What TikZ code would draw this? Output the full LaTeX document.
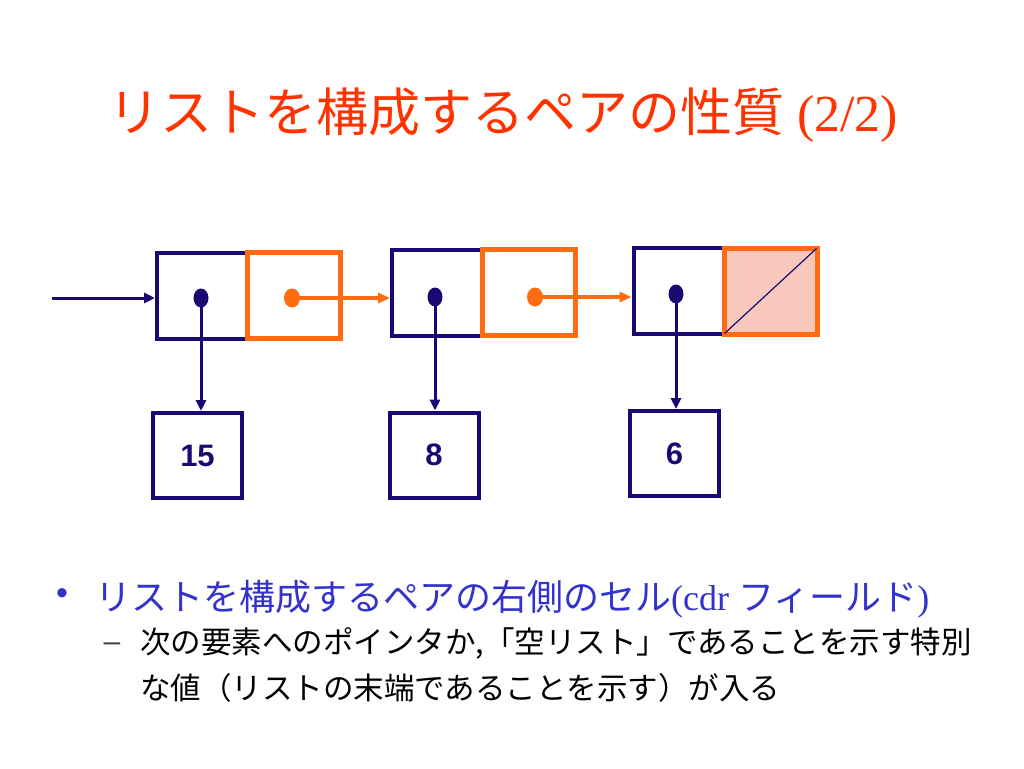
\documentclass[tikz,border=0pt]{standalone}
\usepackage{fontspec}
\setmainfont{Liberation Serif}
\newfontfamily\jp{Noto Sans CJK JP}
\newfontfamily\arialf{Liberation Sans}
\usetikzlibrary{arrows.meta,shapes.geometric}
\definecolor{cnavy}{RGB}{25,10,115}
\definecolor{corange}{RGB}{255,108,16}
\definecolor{ctitle}{RGB}{255,51,0}
\definecolor{cblue}{RGB}{51,51,204}
\definecolor{cpink}{RGB}{248,200,188}
\begin{document}
\begin{tikzpicture}[x=1pt,y=-1pt,
  navycell/.style={draw=cnavy,line width=4pt,rectangle,inner sep=0pt,minimum width=90pt,minimum height=86pt},
  orangecell/.style={draw=corange,line width=5pt,rectangle,inner sep=0pt,minimum width=93pt,minimum height=86pt},
  valbox/.style={draw=cnavy,line width=4pt,rectangle,inner sep=0pt,minimum width=89pt,minimum height=85pt,
    text=cnavy,font=\arialf\bfseries\fontsize{31}{36}\selectfont},
  dotn/.style={ellipse,fill=cnavy,inner sep=0pt,minimum width=15pt,minimum height=19pt},
  doto/.style={ellipse,fill=corange,inner sep=0pt,minimum width=16pt,minimum height=19pt},
  narr/.style={draw=cnavy,line width=3pt,-{Triangle[length=11pt,width=10pt]}},
  oarr/.style={draw=corange,line width=3.5pt,-{Triangle[length=12pt,width=10pt]}},
  titletext/.style={anchor=base west,inner sep=0pt,text=ctitle,font=\fontsize{52}{60}\selectfont},
  bullettext/.style={anchor=base west,inner sep=0pt,text=cblue,font=\fontsize{36}{42}\selectfont},
  subtext/.style={anchor=base west,inner sep=0pt,text=black,font=\fontsize{30.5}{36}\selectfont}
]
\useasboundingbox[fill=white] (0,0) rectangle (1024,768);

% title
\node[titletext] (title) at (108,131.8) {{\jp リストを構成するペアの性質} (2/2)};

% pair cells
\node[navycell] (c1a) at (202,295.5) {};
\node[navycell] (c2a) at (437,292.5) {};
\node[navycell] (c3a) at (678.5,291) {};
\node[orangecell] (c1b) at (293.5,295) {};
\node[orangecell] (c2b) at (529,292.5) {};
\node[orangecell,fill=cpink] (c3b) at (770.5,291) {};
\draw[cnavy,line width=1.2pt] ([shift={(3pt,3pt)}]c3b.south west) -- ([shift={(-3pt,-3pt)}]c3b.north east);

% value boxes
\node[valbox] (v1) at (197.5,455.5) {15};
\node[valbox] (v2) at (434,455) {8};
\node[valbox] (v3) at (674.5,453.5) {6};

% dots
\node[dotn] (d1) at (201,298) {};
\node[dotn] (d2) at (435,297) {};
\node[dotn] (d3) at (676,294) {};
\node[doto] (o1) at (292,298) {};
\node[doto] (o2) at (535,297) {};

% connectors
\coordinate (start) at (52,298);
\draw[narr] (start) -- (start -| c1a.west);
\draw[narr] (d1.center) -- (d1.center |- v1.north);
\draw[narr] (d2.center) -- (d2.center |- v2.north);
\draw[narr] (d3.center) -- (d3.center |- v3.north);
\draw[oarr] (o1.center) -- (o1.center -| c2a.west);
\draw[oarr] (o2.center) -- (o2.center -| c3a.west);

% bullets
\node[text=cblue,font=\arialf\fontsize{34}{36}\selectfont,inner sep=0pt] (b1) at (62,597) {•};
\node[bullettext] (l1) at (95,610.7) {{\jp リストを構成するペアの右側のセル}(cdr {\jp フィールド})};
\node[text=black!75,font=\arialf\fontsize{30}{36}\selectfont,inner sep=0pt] (b2) at (112,647) {–};
\node[subtext] (l2) at (140,653.6) {\jp 次の要素へのポインタか,「空リスト」であることを示す特別};
\node[subtext] (l3) at (140,699.6) {\jp な値（リストの末端であることを示す）が入る};
\end{tikzpicture}
\end{document}
